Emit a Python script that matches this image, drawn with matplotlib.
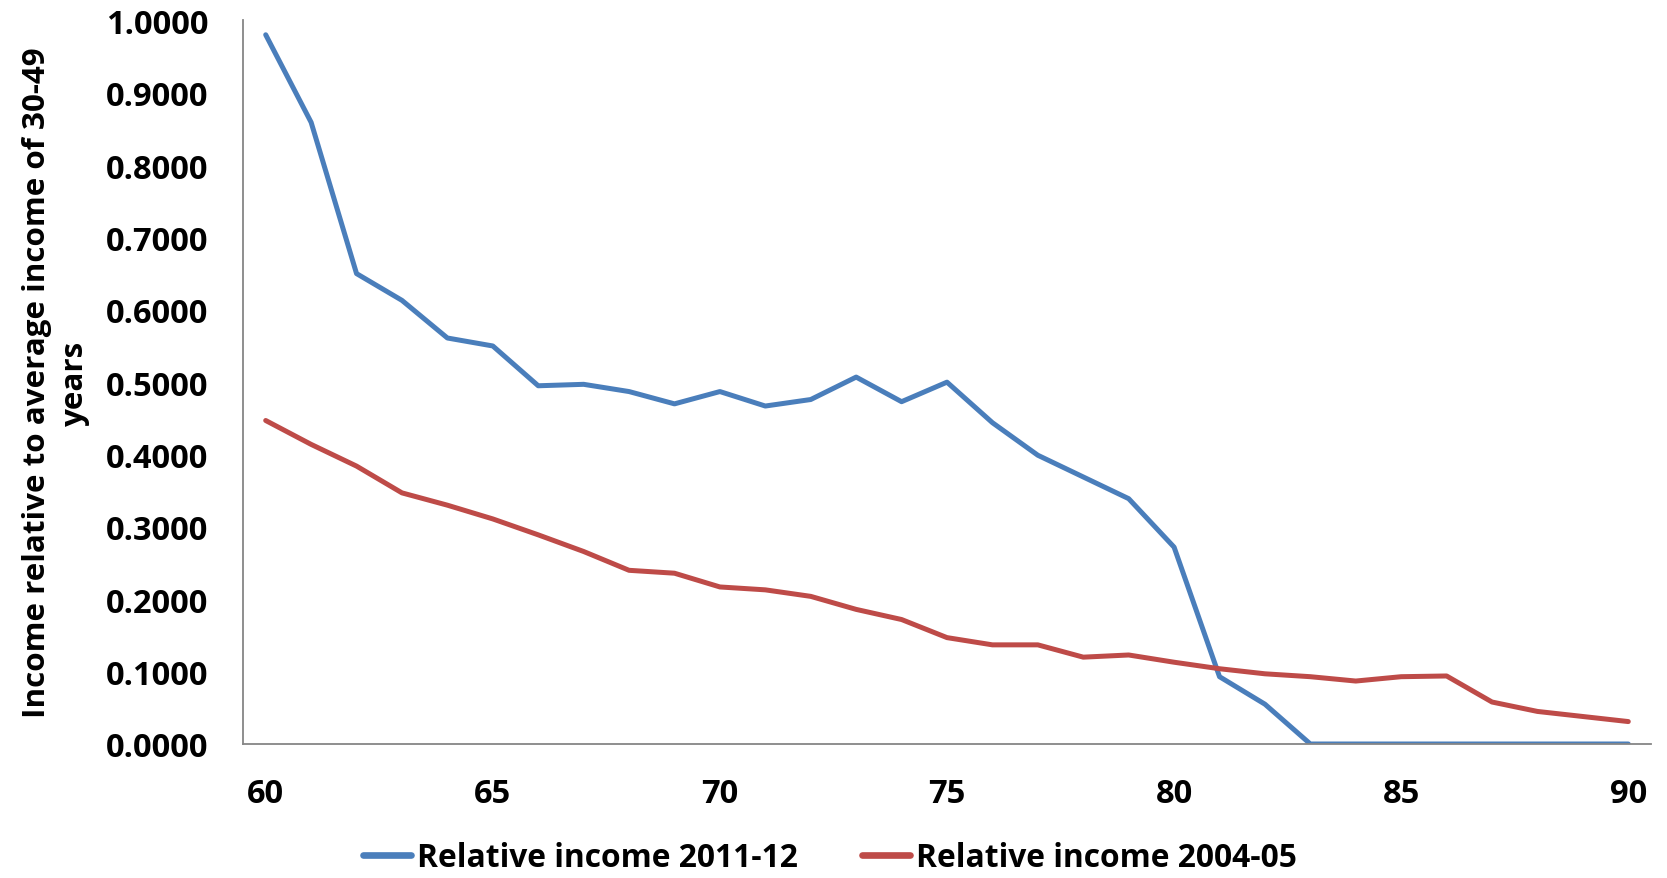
import matplotlib
matplotlib.use("Agg")
import matplotlib.pyplot as plt
from matplotlib.ticker import FormatStrFormatter

ages = list(range(60, 91))
income_2011 = [0.980, 0.859, 0.650, 0.613, 0.561, 0.550, 0.495, 0.497, 0.487, 0.470,
               0.487, 0.467, 0.476, 0.507, 0.473, 0.500, 0.444, 0.399, 0.369, 0.339,
               0.272, 0.093, 0.055, 0.0, 0.0, 0.0, 0.0, 0.0, 0.0, 0.0, 0.0]
income_2004 = [0.447, 0.414, 0.384, 0.347, 0.330, 0.311, 0.289, 0.266, 0.240, 0.236,
               0.217, 0.213, 0.204, 0.186, 0.172, 0.147, 0.137, 0.137, 0.120, 0.123,
               0.113, 0.104, 0.097, 0.093, 0.087, 0.093, 0.094, 0.058, 0.045, 0.038, 0.031]
series_labels = ["Relative income 2011-12", "Relative income 2004-05"]
y_label = "Income relative to average income of 30-49\nyears"
y_ticks = [0.0, 0.1, 0.2, 0.3, 0.4, 0.5, 0.6, 0.7, 0.8, 0.9, 1.0]
x_ticks = [60, 65, 70, 75, 80, 85, 90]

font = ['Open Sans', 'DejaVu Sans']
plt.rcParams['font.family'] = font

W, H = 1667, 879
fig = plt.figure(figsize=(W/100, H/100), dpi=100)
ax = fig.add_axes([243/W, 1 - 745/H, (1651-243)/W, (745-21.3)/H])

ax.plot(ages, income_2011, color='#4A7EBB', lw=3.6, label=series_labels[0], solid_capstyle='round')
ax.plot(ages, income_2004, color='#BE4B48', lw=3.6, label=series_labels[1], solid_capstyle='round')

ax.set_xlim(59.5, 90.5)
ax.set_ylim(0, 1.0)
ax.set_yticks(y_ticks)
ax.set_xticks(x_ticks)
ax.yaxis.set_major_formatter(FormatStrFormatter('%.4f'))
for s in ['top', 'right']:
    ax.spines[s].set_visible(False)
for s in ['left', 'bottom']:
    ax.spines[s].set_color('#868686')
    ax.spines[s].set_linewidth(1.3)
ax.tick_params(axis='both', length=0, labelsize=23.5)
ax.tick_params(axis='y', pad=25)
ax.tick_params(axis='x', pad=24)
for lbl in ax.get_xticklabels() + ax.get_yticklabels():
    lbl.set_fontweight('bold')

ylab = fig.text(56/W, 1 - 383/H, y_label, rotation=90, ha='center', va='center',
                multialignment='center', fontsize=21, fontweight='bold', linespacing=1.35)

leg = fig.legend(loc='center', bbox_to_anchor=(0.498, 1 - 859/H), ncol=2, frameon=False,
                 prop={'size': 22.9, 'weight': 'bold'},
                 handlelength=1.5, handletextpad=0.2, columnspacing=2.0)
for h in leg.legend_handles:
    h.set_linewidth(4.8)

# fit the y-label's first line to the reference's length (~670 px)
fig.canvas.draw()
r = fig.canvas.get_renderer()
ext = ylab.get_window_extent(r)
scale = 670 / ext.height
ylab.set_fontsize(21 * scale)

fig.savefig("out.png", dpi=100, facecolor='white')
